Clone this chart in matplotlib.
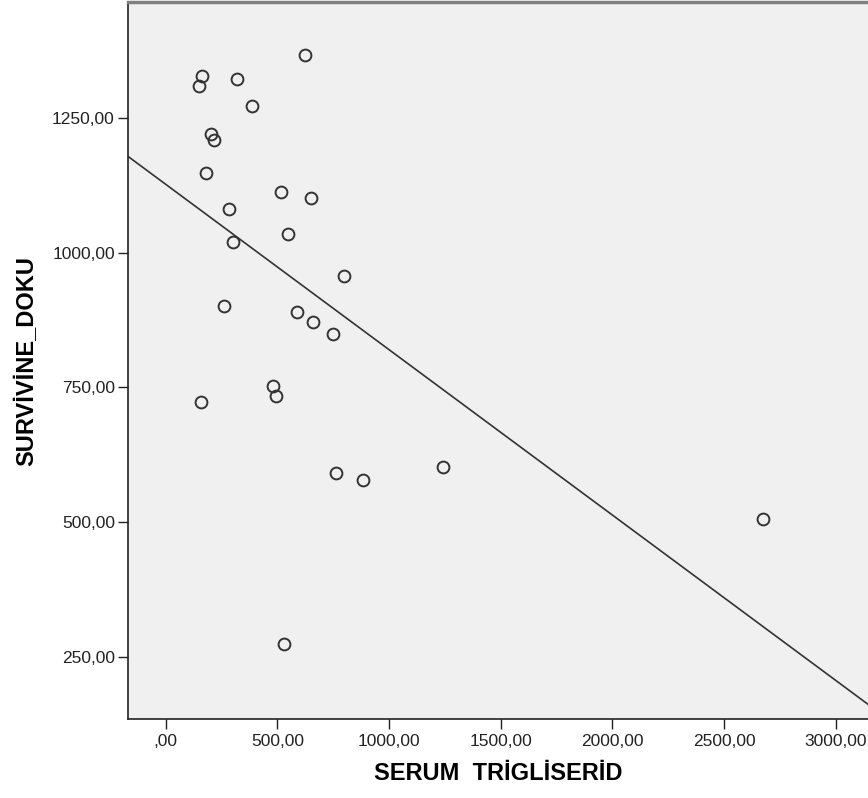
import numpy as np
import matplotlib
matplotlib.use('Agg')
import matplotlib.pyplot as plt
from matplotlib.ticker import FuncFormatter

# serum triglyceride vs tissue survival, one point per case
serum_trig = [623.5, 162.5, 147.7, 320.5, 386.3, 201.4, 216.2, 181.7, 516.0,
              651.0, 281.0, 549.0, 302.0, 260.0, 586.0, 660.0, 748.0, 798.0,
              479.0, 494.0, 158.0, 761.0, 882.0, 1243.0, 2674.0, 531.0]
survivine = [1367.0, 1327.0, 1309.0, 1322.0, 1273.0, 1220.0, 1208.6, 1148.5,
             1111.8, 1100.6, 1081.0, 1034.8, 1019.0, 901.0, 889.7, 870.6,
             850.0, 956.0, 753.0, 734.0, 723.0, 591.0, 578.0, 602.5, 506.0,
             275.0]

x_ticks = [0, 500, 1000, 1500, 2000, 2500, 3000]
y_ticks = [250, 500, 750, 1000, 1250]
x_lim = (-169, 3144)
y_lim = (135, 1465)

plt.rcParams['font.family'] = ['Liberation Sans', 'DejaVu Sans']


def comma_fmt(v, pos):
    s = f"{v:.2f}".replace('.', ',')
    return s[1:] if s.startswith('0,') else s


fig = plt.figure(figsize=(8.68, 7.98), dpi=100)
ax = fig.add_axes([128 / 868, 79 / 798, 740 / 868, 717 / 798])
ax.set_facecolor('#F0F0F0')

ax.plot(serum_trig, survivine, 'o', linestyle='none', markersize=8.5,
        markerfacecolor='none', markeredgecolor='#333333', markeredgewidth=1.4,
        zorder=3)

# least-squares fit line across the full x range
slope, intercept = np.polyfit(serum_trig, survivine, 1)
xs = np.array(x_lim)
ax.plot(xs, intercept + slope * xs, color='#333333', linewidth=1.2, zorder=2)

ax.set_xlim(*x_lim)
ax.set_ylim(*y_lim)
ax.set_xticks(x_ticks)
ax.set_yticks(y_ticks)
ax.xaxis.set_major_formatter(FuncFormatter(comma_fmt))
ax.yaxis.set_major_formatter(FuncFormatter(comma_fmt))
ax.tick_params(axis='both', direction='out', length=7.5, width=1.0,
               color='#222222', labelsize=12.5, labelcolor='#222222')
ax.tick_params(axis='x', pad=3)
ax.tick_params(axis='y', pad=2)

for side in ['left', 'bottom']:
    ax.spines[side].set_color('#222222')
    ax.spines[side].set_linewidth(1.2)
ax.spines['top'].set_color('#808080')
ax.spines['top'].set_linewidth(2.5)
ax.spines['right'].set_visible(False)

ax.set_xlabel('SERUM  TRİGLİSERİD', fontsize=17, fontweight='bold', labelpad=10)
ax.set_ylabel('SURVİVİNE_DOKU', fontsize=17, fontweight='bold', labelpad=10)

fig.savefig('out.png', dpi=100)
print(slope, intercept)
